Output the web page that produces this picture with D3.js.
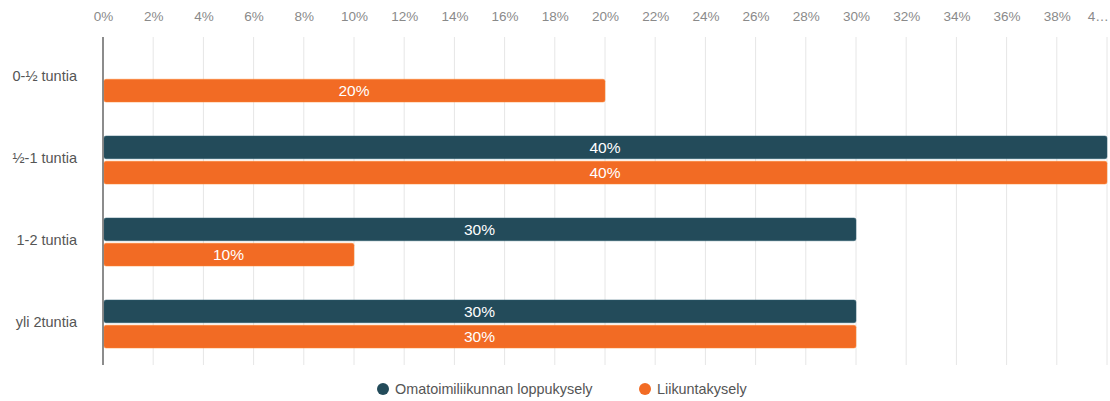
<!DOCTYPE html>
<html>
<head>
<meta charset="utf-8">
<script src="https://cdn.jsdelivr.net/npm/d3@7/dist/d3.min.js"></script>
<style>
  body { margin: 0; background: #fff; }
  svg { display: block; font-family: "Liberation Sans", Arial, sans-serif; }
</style>
</head>
<body>
<svg id="chart" width="1110" height="401"></svg>
<script>
var categories = ['0-½ tuntia', '½-1 tuntia', '1-2 tuntia', 'yli 2tuntia']
var seriesNames = ['Omatoimiliikunnan loppukysely', 'Liikuntakysely']
var loppukysely = [0, 40, 30, 30]
var liikuntakysely = [20, 40, 10, 30]
var tickValues = [0, 2, 4, 6, 8, 10, 12, 14, 16, 18, 20, 22, 24, 26, 28, 30, 32, 34, 36, 38, 40]
var colors = ['#234b5a', '#f26b24']

// note: "top" is a window property, so use other names
var svg = d3.select('#chart'),
  plotL = 103, plotR = 1107, plotT = 37, plotB = 365

var x = d3.scaleLinear().domain([0, 40]).range([plotL, plotR])
var y = d3.scaleBand().domain(categories).range([plotT, plotB])
var inner = d3.scaleBand().domain(seriesNames).range([y.bandwidth()/2 - 24, y.bandwidth()/2 + 24]).paddingInner(0.1)

// gridlines
svg.append('g').selectAll('line').data(tickValues.slice(1)).enter()
  .append('line')
  .attr('x1', function(d) { return x(d) }).attr('x2', function(d) { return x(d) })
  .attr('y1', plotT).attr('y2', plotB)
  .attr('stroke', '#e6e6e6').attr('stroke-width', 1)

// top tick labels
var xAxis = d3.axisTop(x).tickValues(tickValues).tickSize(0)
  .tickFormat(function(d) { return d === 40 ? '4…' : d + '%' })
var ax = svg.append('g').attr('transform', 'translate(0,8)').call(xAxis)
ax.select('.domain').remove()
ax.selectAll('text').attr('fill', '#8a8a8a').attr('font-size', 13.5).attr('dy', '1.15em')
ax.selectAll('.tick').filter(function(d) { return d === 40 }).select('text')
  .attr('text-anchor', 'end').attr('dx', '0.1em')

// category labels
svg.append('g').selectAll('text').data(categories).enter()
  .append('text')
  .attr('x', 77)
  .attr('y', function(d) { return y(d) + y.bandwidth()/2 - 2 })
  .attr('dy', '0.35em')
  .attr('text-anchor', 'end')
  .attr('fill', '#555')
  .attr('font-size', 14.5)
  .text(function(d) { return d })

// bars
var rows = categories.map(function(c, i) {
  return [
    {cat: c, name: seriesNames[0], value: loppukysely[i], color: colors[0]},
    {cat: c, name: seriesNames[1], value: liikuntakysely[i], color: colors[1]}
  ]
})
var bars = [].concat.apply([], rows).filter(function(d) { return d.value > 0 })

var g = svg.append('g')
g.selectAll('rect').data(bars).enter()
  .append('rect')
  .attr('x', x(0) + 1)
  .attr('y', function(d) { return y(d.cat) + inner(d.name) })
  .attr('width', function(d) { return x(d.value) - x(0) - 1 })
  .attr('height', inner.bandwidth())
  .attr('rx', 2)
  .attr('fill', function(d) { return d.color })
  .attr('stroke', function(d) { return d3.color(d.color).brighter(0.6) })
  .attr('stroke-opacity', 0.5)
  .attr('stroke-width', 1)

g.selectAll('text').data(bars).enter()
  .append('text')
  .attr('x', function(d) { return (x(0) + x(d.value))/2 })
  .attr('y', function(d) { return y(d.cat) + inner(d.name) + inner.bandwidth()/2 })
  .attr('dy', '0.35em')
  .attr('text-anchor', 'middle')
  .attr('fill', '#fff')
  .attr('font-size', 15.5)
  .text(function(d) { return d.value + '%' })

// axis line
svg.append('line')
  .attr('x1', plotL).attr('x2', plotL).attr('y1', plotT).attr('y2', plotB)
  .attr('stroke', '#666').attr('stroke-width', 1.5)

// legend
var legendX = [383, 645]
var lg = svg.append('g').selectAll('g').data(seriesNames).enter()
  .append('g').attr('transform', function(d, i) { return 'translate(' + legendX[i] + ',389)' })
lg.append('circle').attr('r', 6).attr('fill', function(d, i) { return colors[i] })
lg.append('text').attr('x', 12).attr('dy', '0.35em')
  .attr('fill', '#555').attr('font-size', 14.4)
  .text(function(d) { return d })
</script>
</body>
</html>
